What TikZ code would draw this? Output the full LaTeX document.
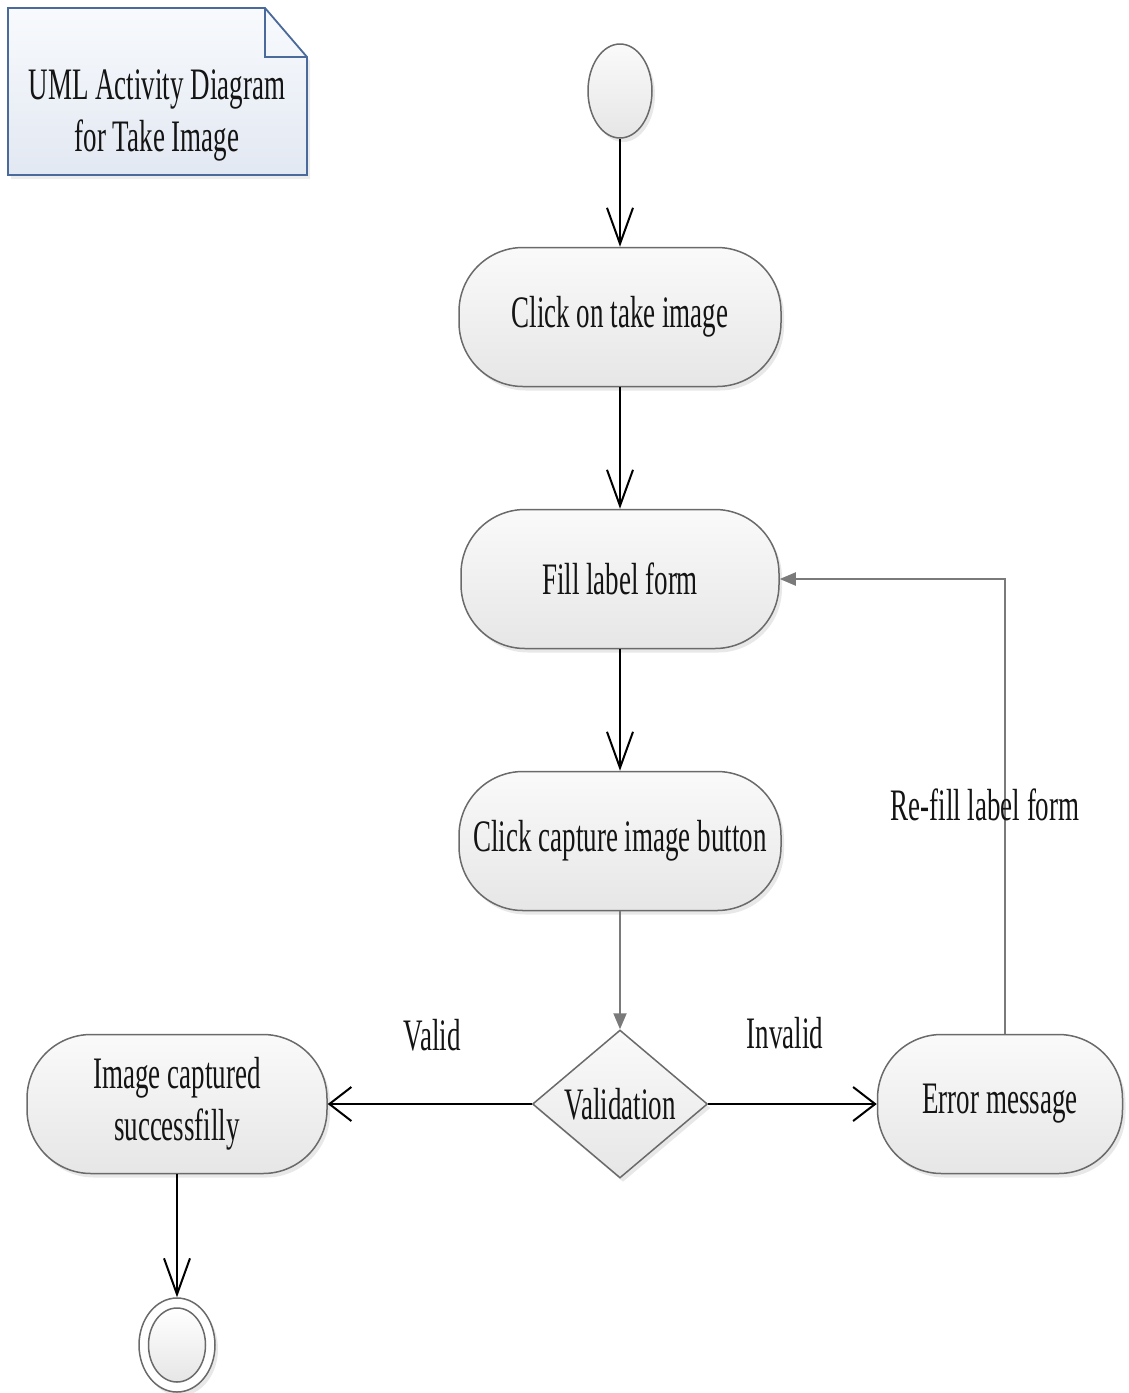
\documentclass[tikz,border=0pt]{standalone}
\usepackage{fontspec}
\setmainfont{Liberation Serif}[FakeStretch=0.6]
\usetikzlibrary{arrows.meta,shapes.geometric,shadows}

\definecolor{edgegray}{HTML}{6A6A6A}
\definecolor{flowgray}{HTML}{7A7A7A}
\definecolor{inkgray}{HTML}{141414}
\definecolor{noteblue}{HTML}{4A6A9C}
\definecolor{notetop}{HTML}{F8FAFD}
\definecolor{notebottom}{HTML}{E2E8F2}
\definecolor{boxtop}{HTML}{FAFAFA}
\definecolor{boxbottom}{HTML}{E6E6E6}

\begin{document}
\begin{tikzpicture}[x=1pt,y=-1pt,
  every node/.style={font=\fontsize{45}{52}\selectfont, text=inkgray},
  softshadow/.style={drop shadow={shadow xshift=3pt,shadow yshift=-4pt,opacity=0.18}},
  activity/.style={rectangle, rounded corners=64pt, draw=edgegray, line width=1.5pt,
    top color=boxtop, bottom color=boxbottom, minimum height=139pt,
    align=center, inner sep=0pt, softshadow},
  decision/.style={diamond, aspect=1.18, draw=edgegray, line width=1.5pt,
    top color=boxtop, bottom color=boxbottom, minimum width=175pt,
    minimum height=148pt, inner sep=0pt, softshadow},
  startnode/.style={ellipse, draw=edgegray, line width=1.5pt, top color=boxtop,
    bottom color=boxbottom, minimum width=64pt, minimum height=94pt, inner sep=0pt, softshadow},
  endouter/.style={ellipse, draw=edgegray, line width=1.5pt, fill=white,
    minimum width=76pt, minimum height=94pt, inner sep=0pt, softshadow},
  endinner/.style={ellipse, draw=edgegray, line width=1.5pt, top color=white,
    bottom color=boxbottom, minimum width=57pt, minimum height=74pt, inner sep=0pt},
  flowv/.style={draw=black, line width=2pt, -{Straight Barb[length=36pt,width=26pt]}},
  flowh/.style={draw=black, line width=2pt, -{Straight Barb[length=22pt,width=34pt]}},
  flowgrey/.style={draw=flowgray, line width=2pt, -{Triangle[length=16pt,width=13pt]}},
  guard/.style={inner sep=0pt}
]
\useasboundingbox (0,0) rectangle (1128,1393);

% note with folded corner
\coordinate (nw) at (8,8);
\coordinate (fold) at (265,8);
\coordinate (foldend) at (307,57);
\coordinate (se) at (307,175);
\fill[top color=notetop, bottom color=notebottom, draw=noteblue, line width=1.8pt,
      drop shadow={shadow xshift=3pt,shadow yshift=-4pt,opacity=0.15}]
  (nw) -- (fold) -- (foldend) -- (se) -- (nw |- se) -- cycle;
\draw[noteblue, line width=1.8pt] (fold) |- (foldend);
\node[align=center, inner sep=0pt] (title) at (157,115) {UML Activity Diagram\\for Take Image};

% activity nodes
\node[startnode] (start) at (620,91) {};
\node[activity, minimum width=322pt] (a1) at (620,317) {\raisebox{-3pt}{Click on take image}};
\node[activity, minimum width=318pt] (a2) at (620,579) {Fill label form};
\node[activity, minimum width=322pt] (a3) at (620,841) {\raisebox{-3pt}{Click capture image button}};
\node[decision] (dec) at (620,1104) {Validation};
\node[activity, minimum width=300pt] (img) at (177,1104) {Image captured\\successfilly};
\node[activity, minimum width=245pt] (err) at (1000,1104) {\raisebox{-3pt}{Error message}};
\node[endouter] (stop) at (177,1345) {};
\node[endinner] (stopin) at (177,1345) {};

% control flow
\draw[flowv] (start) -- (a1);
\draw[flowv] (a1) -- (a2);
\draw[flowv] (a2) -- (a3);
\draw[flowgrey] (a3) -- (dec);
\draw[flowh] (dec) -- (img);
\draw[flowh] (dec) -- (err);
\draw[flowgrey] ([xshift=5pt]err.north) |- (a2.east);
\draw[flowv] (img) -- (stop);

% guards
\node[guard] (lvalid) at (432,1035) {Valid};
\node[guard] (linvalid) at (785,1033) {Invalid};
\node[guard] (lrefill) at (985,805) {Re-fill label form};
\end{tikzpicture}
\end{document}
